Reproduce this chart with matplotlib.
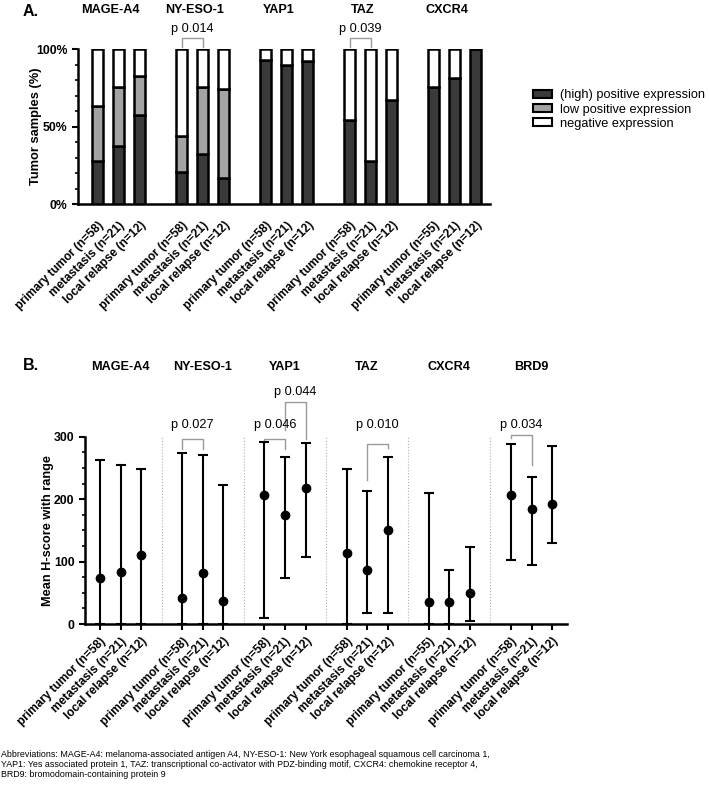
import matplotlib
matplotlib.use("Agg")
import matplotlib.pyplot as plt
from matplotlib import font_manager
from matplotlib.patches import Patch
from matplotlib.ticker import MultipleLocator

plt.rcParams['font.family'] = ['Liberation Sans', 'DejaVu Sans']

# categories
markers_a = ["MAGE-A4", "NY-ESO-1", "YAP1", "TAZ", "CXCR4"]
markers_b = ["MAGE-A4", "NY-ESO-1", "YAP1", "TAZ", "CXCR4", "BRD9"]
cohorts = ["primary tumor (n=58)", "metastasis (n=21)", "local relapse (n=12)"]
cohorts_cxcr4 = ["primary tumor (n=55)", "metastasis (n=21)", "local relapse (n=12)"]

# panel A: % of tumor samples (primary, metastasis, local relapse)
high_pos = [[28, 37.5, 57.5], [20.5, 32.5, 16.5], [93, 90, 92], [54.5, 28, 67], [75.5, 81, 100]]
low_pos = [[35.5, 38, 25], [23.5, 43, 58], [0, 0, 0], [0, 0, 0], [0, 0, 0]]
negative = [[36.5, 24.5, 17.5], [56, 24.5, 25.5], [7, 10, 8], [45.5, 72, 33], [24.5, 19, 0]]
pvals_a = [(4, 5, "p 0.014"), (12, 13, "p 0.039")]

# panel B: mean H-score with range
mean_b = [[74, 84, 111], [42, 81, 37], [206, 174, 218], [113, 87, 150], [35, 35, 50], [207, 184, 193]]
max_b = [[263, 255, 248], [274, 270, 223], [292, 267, 290], [249, 213, 267], [210, 87, 124], [288, 236, 285]]
min_b = [[0, 0, 0], [0, 0, 0], [10, 74, 108], [0, 18, 18], [0, 0, 5], [103, 95, 129]]
# (left pos, right pos, label, bracket top, left leg end, right leg end, text y)
pvals_b = [(4, 5, "p 0.027", 296, 281, 281, 319),
           (8, 9, "p 0.046", 296, 292, 281, 319),
           (9, 10, "p 0.044", 356, 311, 297, 372),
           (13, 14, "p 0.010", 288, 231, 282, 319),
           (20, 21, "p 0.034", 303, 298, 254, 319)]

abbrev = ("Abbreviations: MAGE-A4: melanoma-associated antigen A4, NY-ESO-1: New York esophageal squamous cell carcinoma 1,\n"
          "YAP1: Yes associated protein 1, TAZ: transcriptional co-activator with PDZ-binding motif, CXCR4: chemokine receptor 4,\n"
          "BRD9: bromodomain-containing protein 9")

c_high = '#3a3a3a'
c_low = '#a3a3a3'
c_neg = 'white'
c_br = '#9a9a9a'

# footnote is set in a narrow face if one is installed
font_names = {f.name for f in font_manager.fontManager.ttflist}
if 'Liberation Sans Narrow' in font_names:
    abbrev_font = dict(family=['Liberation Sans Narrow', 'DejaVu Sans'], fontsize=7.8)
else:
    abbrev_font = dict(family=['Liberation Sans', 'DejaVu Sans'], fontsize=6.4)

fig = plt.figure(figsize=(7.09, 7.92), dpi=100)
axA = fig.add_axes([0.110, 0.7424, 0.581, 0.1957])
axB = fig.add_axes([0.1199, 0.2121, 0.680, 0.2365])

# ---------- panel A ----------
xs_a, labels_a = [], []
for g, name in enumerate(markers_a):
    xs = [g * 4 + i for i in range(3)]
    xs_a += xs
    labels_a += cohorts_cxcr4 if name == "CXCR4" else cohorts
    h, l, n = high_pos[g], low_pos[g], negative[g]
    kw = dict(width=0.52, edgecolor='black', linewidth=1.8, zorder=3)
    axA.bar(xs, h, color=c_high, **kw)
    axA.bar(xs, l, bottom=h, color=c_low, **kw)
    axA.bar(xs, n, bottom=[a + b for a, b in zip(h, l)], color=c_neg, **kw)
    axA.text(g * 4 + 0.6, 125, name, ha='center', va='center', fontsize=9.1,
             fontweight='bold', clip_on=False)

for x1, x2, lab in pvals_a:
    axA.plot([x1, x1, x2, x2], [101.5, 107, 107, 101.5], color=c_br, lw=1, clip_on=False)
    axA.text((x1 + x2) / 2, 113, lab, ha='center', va='center', fontsize=9.2, clip_on=False)

axA.set_xlim(-0.95, 18.67)
axA.set_ylim(0, 100)
axA.set_yticks([0, 50, 100])
axA.set_yticklabels(['0%', '50%', '100%'], fontweight='bold', fontsize=8.8)
axA.yaxis.set_minor_locator(MultipleLocator(10))
axA.set_xticks(xs_a)
axA.set_xticklabels(labels_a, rotation=45, ha='right', rotation_mode='anchor',
                    fontsize=8.6, fontweight='bold')
axA.tick_params(axis='x', length=0, pad=11)
axA.tick_params(axis='y', which='major', length=4, width=1.5)
axA.tick_params(axis='y', which='minor', length=2.5, width=1.2)
for s in ['top', 'right']:
    axA.spines[s].set_visible(False)
for s in ['left', 'bottom']:
    axA.spines[s].set_linewidth(1.8)
axA.set_ylabel("Tumor samples (%)", fontweight='bold', fontsize=9.3)
axA.yaxis.set_label_coords(-0.088, 0.5)

handles = [Patch(facecolor=c_high, edgecolor='black', lw=1.5, label='(high) positive expression'),
           Patch(facecolor=c_low, edgecolor='black', lw=1.5, label='low positive expression'),
           Patch(facecolor=c_neg, edgecolor='black', lw=1.5, label='negative expression')]
axA.legend(handles=handles, loc='upper left', bbox_to_anchor=(0.752, 0.887),
           bbox_transform=fig.transFigure, frameon=False, fontsize=9.2,
           handlelength=1.5, handleheight=0.55, handletextpad=0.6,
           labelspacing=0.16, borderpad=0, borderaxespad=0)

# ---------- panel B ----------
xs_b, labels_b = [], []
for g, name in enumerate(markers_b):
    xs = [g * 4 + i for i in range(3)]
    xs_b += xs
    labels_b += cohorts_cxcr4 if name == "CXCR4" else cohorts
    m, hi, lo = mean_b[g], max_b[g], min_b[g]
    err = [[a - b for a, b in zip(m, lo)], [b - a for a, b in zip(m, hi)]]
    axB.errorbar(xs, m, yerr=err, fmt='o', color='black', ms=6, capsize=3.5,
                 elinewidth=1.5, capthick=1.5, zorder=3)
    axB.text(g * 4 + 1, 411, name, ha='center', va='center', fontsize=9.1,
             fontweight='bold', clip_on=False)

axB.vlines([3, 7, 11, 15, 19], 0, 300, colors='#b0b0b0', linestyles=':', lw=0.8)

for x1, x2, lab, top, yl, yr, ty in pvals_b:
    axB.plot([x1, x1, x2, x2], [yl, top, top, yr], color=c_br, lw=1, clip_on=False)
    axB.text((x1 + x2) / 2, ty, lab, ha='center', va='center', fontsize=9.2, clip_on=False)

axB.set_xlim(-0.73, 22.73)
axB.set_ylim(0, 300)
axB.set_yticks([0, 100, 200, 300])
axB.set_yticklabels(['0', '100', '200', '300'], fontweight='bold', fontsize=8.8)
axB.yaxis.set_minor_locator(MultipleLocator(25))
axB.set_xticks(xs_b)
axB.set_xticklabels(labels_b, rotation=45, ha='right', rotation_mode='anchor',
                    fontsize=8.6, fontweight='bold')
axB.tick_params(axis='x', length=4, width=1.5, pad=4)
axB.tick_params(axis='y', which='major', length=4, width=1.5)
axB.tick_params(axis='y', which='minor', length=2.5, width=1.2)
for s in ['top', 'right']:
    axB.spines[s].set_visible(False)
for s in ['left', 'bottom']:
    axB.spines[s].set_linewidth(1.8)
axB.set_ylabel("Mean H-score with range", fontweight='bold', fontsize=9.2)
axB.yaxis.set_label_coords(-0.064, 0.5)

fig.text(0.032, 1 - 11 / 792, "A.", fontsize=11.5, fontweight='bold', va='center')
fig.text(0.032, 1 - 365 / 792, "B.", fontsize=11.5, fontweight='bold', va='center')
fig.text(0.002, 1 - 750 / 792, abbrev, va='top', linespacing=1.15, **abbrev_font)

fig.savefig("out.png", dpi=100)
